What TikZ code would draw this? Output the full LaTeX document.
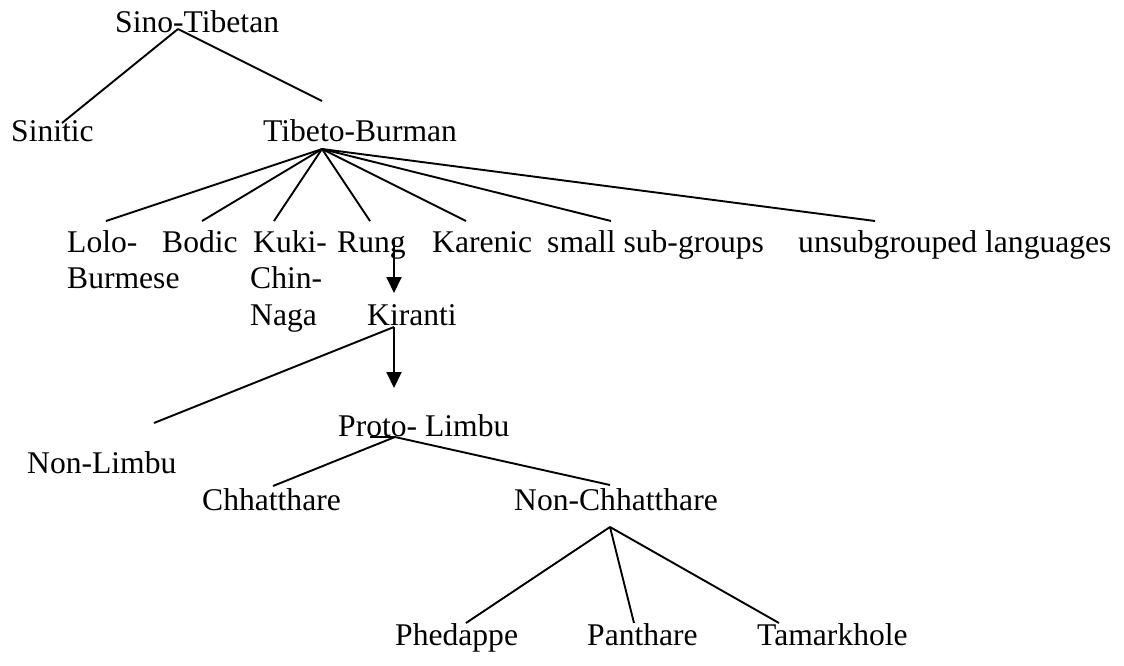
\documentclass[tikz,border=0pt]{standalone}
\usepackage{fontspec}
\setmainfont{Liberation Serif}
\usetikzlibrary{arrows.meta}
\begin{document}
\begin{tikzpicture}[x=1pt,y=-1pt,
  lbl/.style={anchor=base west,inner sep=0pt,font=\fontsize{31.6}{37}\selectfont},
  edge/.style={draw,line width=1.9pt},
  arr/.style={draw,line width=1.9pt,-{Triangle[length=16pt,width=15pt]}}]
\useasboundingbox (0,0) rectangle (1124,665);
% labels
\node[lbl] (st) at (115,32) {Sino-Tibetan};
\node[lbl] (sin) at (11,141) {Sinitic};
\node[lbl] (tb) at (263,141) {Tibeto-Burman};
\node[lbl] (lolo) at (67,252) {Lolo-};
\node[lbl] (lolo2) at (67,288) {Burmese};
\node[lbl] (bodic) at (162,252) {Bodic};
\node[lbl] (kuki) at (253,252) {Kuki-};
\node[lbl] (kuki2) at (250,288) {Chin-};
\node[lbl] (kuki3) at (250,325) {Naga};
\node[lbl] (rung) at (337,252) {Rung};
\node[lbl] (karenic) at (432,252) {Karenic};
\node[lbl] (small) at (547,252) {small sub-groups};
\node[lbl] (unsub) at (798,252) {unsubgrouped languages};
\node[lbl] (kiranti) at (367,325) {Kiranti};
\node[lbl] (nonlimbu) at (27,473) {Non-Limbu};
\node[lbl] (proto) at (338,436) {Proto- Limbu};
\node[lbl] (chh) at (202,510) {Chhatthare};
\node[lbl] (nonchh) at (514,510) {Non-Chhatthare};
\node[lbl] (phed) at (395,645) {Phedappe};
\node[lbl] (panth) at (587,645) {Panthare};
\node[lbl] (tamar) at (757,645) {Tamarkhole};
% connection points
\coordinate (st-b) at (178,29);
\coordinate (sin-t) at (62,123);
\coordinate (tb-t) at (322,101);
\coordinate (tb-b) at (322,149);
\coordinate (lolo-t) at (106,221);
\coordinate (bodic-t) at (202,221);
\coordinate (kuki-t) at (274,221);
\coordinate (rung-t) at (370,221);
\coordinate (karenic-t) at (466,221);
\coordinate (small-t) at (611,221);
\coordinate (unsub-t) at (875,221);
\coordinate (rung-b) at (394,240);
\coordinate (kiranti-t) at (394,293);
\coordinate (kiranti-b) at (394,327);
\coordinate (nonlimbu-t) at (154,423);
\coordinate (proto-t) at (394,388);
\coordinate (proto-b) at (395,437);
\coordinate (proto-u) at (370,437);
\coordinate (chh-t) at (273,486);
\coordinate (nonchh-t) at (610,485);
\coordinate (nonchh-b) at (610,527);
\coordinate (phed-t) at (466,623);
\coordinate (panth-t) at (634,623);
\coordinate (tamar-t) at (779,623);
% connectors
\draw[edge] (st-b) -- (sin-t);
\draw[edge] (st-b) -- (tb-t);
\foreach \c in {lolo-t,bodic-t,kuki-t,rung-t,karenic-t,small-t,unsub-t}
  \draw[edge] (tb-b) -- (\c);
\draw[arr] (rung-b) -- (kiranti-t);
\draw[edge] (kiranti-b) -- (nonlimbu-t);
\draw[arr] (kiranti-b) -- (proto-t);
\draw[edge] (proto-u) -- (proto-b);
\draw[edge] (proto-b) -- (chh-t);
\draw[edge] (proto-b) -- (nonchh-t);
\draw[edge] (nonchh-b) -- (phed-t);
\draw[edge] (nonchh-b) -- (panth-t);
\draw[edge] (nonchh-b) -- (tamar-t);
\end{tikzpicture}
\end{document}
